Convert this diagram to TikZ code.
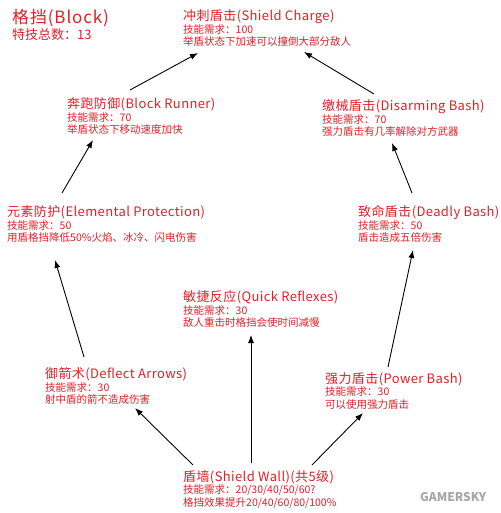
\documentclass[tikz,border=0pt]{standalone}
\usepackage{fontspec}
\setmainfont{Noto Sans CJK SC}
\usetikzlibrary{arrows.meta,calc}
\definecolor{skillred}{RGB}{226,32,40}
\tikzset{
  skill/.style={anchor=west, inner sep=0pt, align=left, text=skillred,
    font=\fontsize{10.5}{12.5}\selectfont},
  conn/.style={-{Latex[length=8pt,width=6pt]}, line width=0.9pt, black},
}
\newcommand{\sktitle}[1]{{\fontsize{13}{12.5}\selectfont\addfontfeatures{LetterSpace=3}#1}}
\begin{document}
\begin{tikzpicture}[x=1pt,y=-1pt]
\useasboundingbox[fill=white] (0,0) rectangle (500,513);
\node[skill, anchor=north west, font=\fontsize{13}{16}\selectfont] (head) at (12,9)
  {{\fontsize{17}{16}\selectfont\addfontfeatures{LetterSpace=5}格挡(Block)}\\特技总数：13};
\node[skill] (charge) at (183,28) {\sktitle{冲刺盾击(Shield Charge)}\\技能需求：100\\举盾状态下加速可以撞倒大部分敌人};
\node[skill] (runner) at (67,116) {\sktitle{奔跑防御(Block Runner)}\\技能需求：70\\举盾状态下移动速度加快};
\node[skill] (disarm) at (322,118) {\sktitle{缴械盾击(Disarming Bash)}\\技能需求：70\\强力盾击有几率解除对方武器};
\node[skill] (elem) at (7,224) {\sktitle{元素防护(Elemental Protection)}\\技能需求：50\\用盾格挡降低50\%火焰、冰冷、闪电伤害};
\node[skill] (deadly) at (358,224) {\sktitle{致命盾击(Deadly Bash)}\\技能需求：50\\盾击造成五倍伤害};
\node[skill] (quick) at (183,309) {\sktitle{敏捷反应(Quick Reflexes)}\\技能需求：30\\敌人重击时格挡会使时间减慢};
\node[skill] (deflect) at (45,386) {\sktitle{御箭术(Deflect Arrows)}\\技能需求：30\\射中盾的箭不造成伤害};
\node[skill] (power) at (325,391) {\sktitle{强力盾击(Power Bash)}\\技能需求：30\\可以使用强力盾击};
\node[skill] (wall) at (183,489) {\sktitle{盾墙(Shield Wall)(共5级)}\\技能需求：20/30/40/50/60?\\格挡效果提升20/40/60/80/100\%};
\node[anchor=west, inner sep=0pt, text=black!35, font=\bfseries\itshape\fontsize{12}{12}\selectfont] (mark) at (420,497) {GAMERSKY};
\draw[conn] ($(wall.west)+(10,-24)$) -- ($(deflect.west)+(90,22)$);
\draw[conn] ($(wall.west)+(68,-26)$) -- ($(quick.west)+(68,26)$);
\draw[conn] ($(wall.west)+(129,-24)$) -- ($(power.west)+(38,22)$);
\draw[conn] ($(deflect.west)+(39,-29)$) -- ($(elem.west)+(48,36)$);
\draw[conn] ($(elem.west)+(55,-31)$) -- ($(runner.west)+(26,24)$);
\draw[conn] ($(runner.west)+(63,-26)$) -- ($(charge.west)+(15,25)$);
\draw[conn] ($(power.west)+(63,-24)$) -- ($(deadly.west)+(55,26)$);
\draw[conn] ($(deadly.west)+(54,-31)$) -- ($(disarm.west)+(70,25)$);
\draw[conn] ($(disarm.west)+(52,-24)$) -- ($(charge.west)+(121,24)$);
\end{tikzpicture}
\end{document}
